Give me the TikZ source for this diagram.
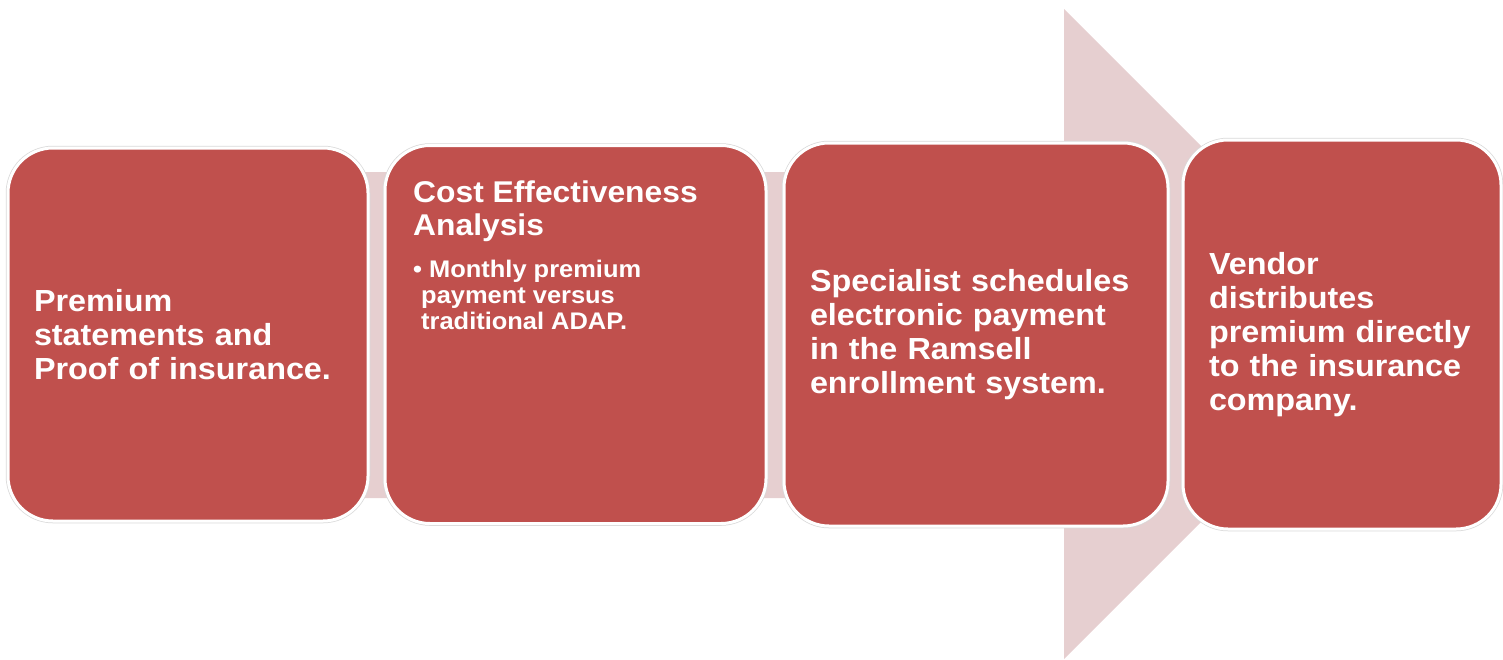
\documentclass[tikz,border=0pt]{standalone}
\usepackage{fontspec}
\setmainfont{Liberation Sans}[FakeStretch=1.06]
\usetikzlibrary{positioning, backgrounds}

\definecolor{stepred}{HTML}{C0504D}
\definecolor{flowpink}{HTML}{E6CFD0}

\begin{document}
\begin{tikzpicture}[
        x=1pt, y=-1pt,
        font=\bfseries,
        % Styles
        stepbox/.style={fill=stepred, draw=white, line width=3pt, rounded corners=45pt,
            preaction={draw=black!15, line width=4.5pt},
            text=white, align=left, inner xsep=26pt, inner ysep=0pt, outer sep=0pt,
            font=\bfseries\fontsize{30.5}{34}\selectfont},
        steptext/.style={text=white, align=left, inner sep=0pt, anchor=north west}
    ]
    \useasboundingbox (0,0) rectangle (1503,659);

    % Process steps
    \node[stepbox, minimum width=360pt, text width=308pt, minimum height=373pt] (premium) at (188,334.5) {Premium\\statements and\\Proof of insurance.};
    \node[stepbox, minimum width=381pt, text width=329pt, minimum height=378pt, right=17pt of premium] (cost) {};
    \node[stepbox, minimum width=384pt, text width=332pt, minimum height=383pt, right=18pt of cost] (ramsell) {Specialist schedules\\electronic payment\\in the Ramsell\\enrollment system.};
    \node[stepbox, minimum width=318pt, text width=266pt, minimum height=389pt, right=15pt of ramsell] (vendor) {Vendor\\distributes\\premium directly\\to the insurance\\company.};

    % Text of the second step sits at the top
    \node[steptext, font=\bfseries\fontsize{30}{33}\selectfont] (costtitle) at ([xshift=28pt, yshift=-35pt]cost.north west) {Cost Effectiveness\\Analysis};
    \node[steptext, below=18pt of costtitle.south west, anchor=north west, font=\bfseries\fontsize{24}{26}\selectfont] (costnote) {\textbullet\ Monthly premium\\\hspace*{8pt}payment versus\\\hspace*{8pt}traditional ADAP.};

    % Big arrow behind the steps
    \begin{scope}[on background layer]
        \fill[flowpink] (20,172) -- (1064,172) -- (1064,9) -- (1389,334) -- (1064,659) -- (1064,498) -- (20,498) -- cycle;
    \end{scope}

\end{tikzpicture}
\end{document}
